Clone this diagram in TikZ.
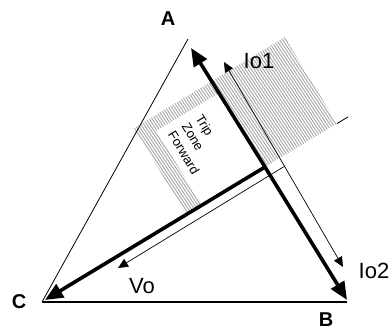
\documentclass[tikz,border=0pt]{standalone}
\usepackage{fontspec}
\setmainfont{Liberation Sans}
\usetikzlibrary{arrows.meta}

\tikzset{
  thinline/.style={line width=0.8pt},
  thickvec/.style={line width=3.6pt, -{Triangle[length=18pt,width=15pt]}},
  thinvec/.style={line width=0.7pt, -{Triangle[length=10pt,width=9pt]}},
  hatchline/.style={gray!70, line width=0.9pt},
  lbl/.style={font=\fontsize{22}{22}\selectfont, inner sep=0pt},
  vtx/.style={font=\fontsize{20}{20}\selectfont\bfseries, inner sep=0pt},
  zonetxt/.style={font=\fontsize{13}{16}\selectfont, align=left, inner sep=0pt},
}

\begin{document}
\begin{tikzpicture}[x=1pt, y=1pt]
    \useasboundingbox (0,0) rectangle (392,332);
    % 顶点与中性点
    \coordinate (Av) at (188,293);
    \coordinate (Bv) at (347,30);
    \coordinate (Cv) at (42,30);
    \coordinate (P) at (265,165);
    \coordinate (tipA) at (191,284);
    \coordinate (tipB) at (347,32);
    \coordinate (tipC) at (45,32);
    % Io, Vo 的端点
    \coordinate (io1) at (224,270);
    \coordinate (io2) at (343,65);
    \coordinate (Q) at (285,166);
    \coordinate (vo) at (118,64);

    % 动作区 (阴影)
    \begin{scope}[shift={(P)}, rotate=31.1]
        \begin{scope}
            \clip (-92,0) rectangle (84,101);
            \begin{scope}[rotate=-31.1]
                \foreach \x in {-240,-237,...,84}
                    \draw[hatchline] (\x,140) -- ++(150,-225);
            \end{scope}
        \end{scope}
        \fill[white] (-74,0) rectangle (0,87);
        \draw[thinline] (84,0) -- (97,0);
        \node[zonetxt, rotate=-58.9] (zone) at (-46,54) {Trip\\Zone\\Forward};
    \end{scope}

    % 三角形
    \draw[thinline] (Cv) -- (Av);
    \draw[line width=1.1pt] (Cv) -- (Bv);

    % Io, Vo
    \draw[thinvec, {Triangle[length=10pt,width=9pt]}-{Triangle[length=10pt,width=9pt]}] (io2) -- (io1);
    \draw[thinvec] (Q) -- (vo);

    % 粗箭头
    \draw[thickvec] (P) -- (tipA);
    \draw[thickvec] (P) -- (tipB);
    \draw[thickvec] (P) -- (tipC);

    % 标注
    \node[vtx] (labA) at (168,313) {A};
    \node[vtx] (labB) at (326,12) {B};
    \node[vtx] (labC) at (19,30) {C};
    \node[lbl] (labIo1) at (259,271) {Io1};
    \node[lbl] (labIo2) at (374,61) {Io2};
    \node[lbl] (labVo) at (142,46) {Vo};
\end{tikzpicture}
\end{document}
